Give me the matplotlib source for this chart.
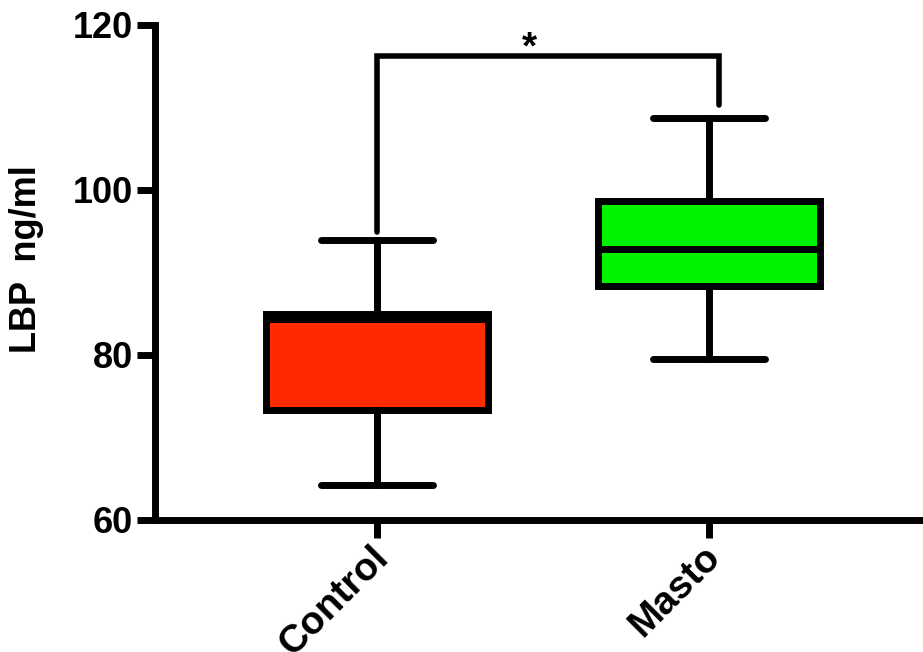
import matplotlib
matplotlib.use('Agg')
import matplotlib.pyplot as plt
from matplotlib.transforms import ScaledTranslation

plt.rcParams['font.family'] = ['Liberation Sans', 'DejaVu Sans']
plt.rcParams['font.weight'] = 'bold'

# Box summary for each group (LBP, ng/ml)
groups = ['Control', 'Masto']
whisker_low = [64.2, 79.5]
q1 = [73.3, 88.4]
median = [84.3, 92.9]
q3 = [85.0, 98.7]
whisker_high = [93.9, 108.7]
box_colors = ['#FF2A00', '#00F200']

# significance bracket
bracket_top = 116.2
bracket_left_end = 94.9
bracket_right_end = 110.3
sig_label = '*'

lw = 5

fig = plt.figure(figsize=(9.23, 6.52), dpi=100)
ax = fig.add_axes([0.168, 0.2025, 0.832, 0.7592])

stats = []
for i, g in enumerate(groups):
    stats.append({'label': g, 'whislo': whisker_low[i], 'q1': q1[i],
                  'med': median[i], 'q3': q3[i], 'whishi': whisker_high[i]})

positions = [1, 2]
bp = ax.bxp(stats, positions=positions, widths=0.67, capwidths=0.34,
            patch_artist=True, showfliers=False,
            boxprops=dict(linewidth=lw, edgecolor='black', joinstyle='miter'),
            medianprops=dict(color='black', linewidth=lw),
            whiskerprops=dict(color='black', linewidth=lw),
            capprops=dict(color='black', linewidth=lw, solid_capstyle='round'))
for patch, c in zip(bp['boxes'], box_colors):
    patch.set_facecolor(c)

# bracket between the two groups
ax.plot([1.0, 1.0, 2.03, 2.03],
        [bracket_left_end, bracket_top, bracket_top, bracket_right_end],
        color='black', linewidth=4, solid_capstyle='round', solid_joinstyle='miter')
ax.text(1.46, bracket_top - 1.2, sig_label, ha='center', va='bottom',
        fontsize=28, fontweight='bold')

ax.set_ylim(60, 120)
ax.set_xlim(0.331, 2.645)
ax.set_yticks([60, 80, 100, 120])
ax.set_xticks(positions)
ax.set_xticklabels(groups, rotation=45, ha='right', rotation_mode='anchor')

ax.spines['top'].set_visible(False)
ax.spines['right'].set_visible(False)
ax.spines['left'].set_linewidth(lw)
ax.spines['bottom'].set_linewidth(lw)
ax.tick_params(axis='both', width=lw, length=13, labelsize=26, pad=3)
ax.tick_params(axis='x', labelsize=28)
shift = ScaledTranslation(-0.07, 0.03, fig.dpi_scale_trans)
for lab in ax.get_xticklabels():
    lab.set_fontweight('heavy')
    lab.set_transform(lab.get_transform() + shift)
for lab in ax.get_yticklabels():
    lab.set_fontweight('heavy')

ax.set_ylabel('LBP  ng/ml', fontsize=26, fontweight='heavy')
ax.yaxis.set_label_coords(-0.145, 0.527)

fig.savefig('out.png', dpi=100)
